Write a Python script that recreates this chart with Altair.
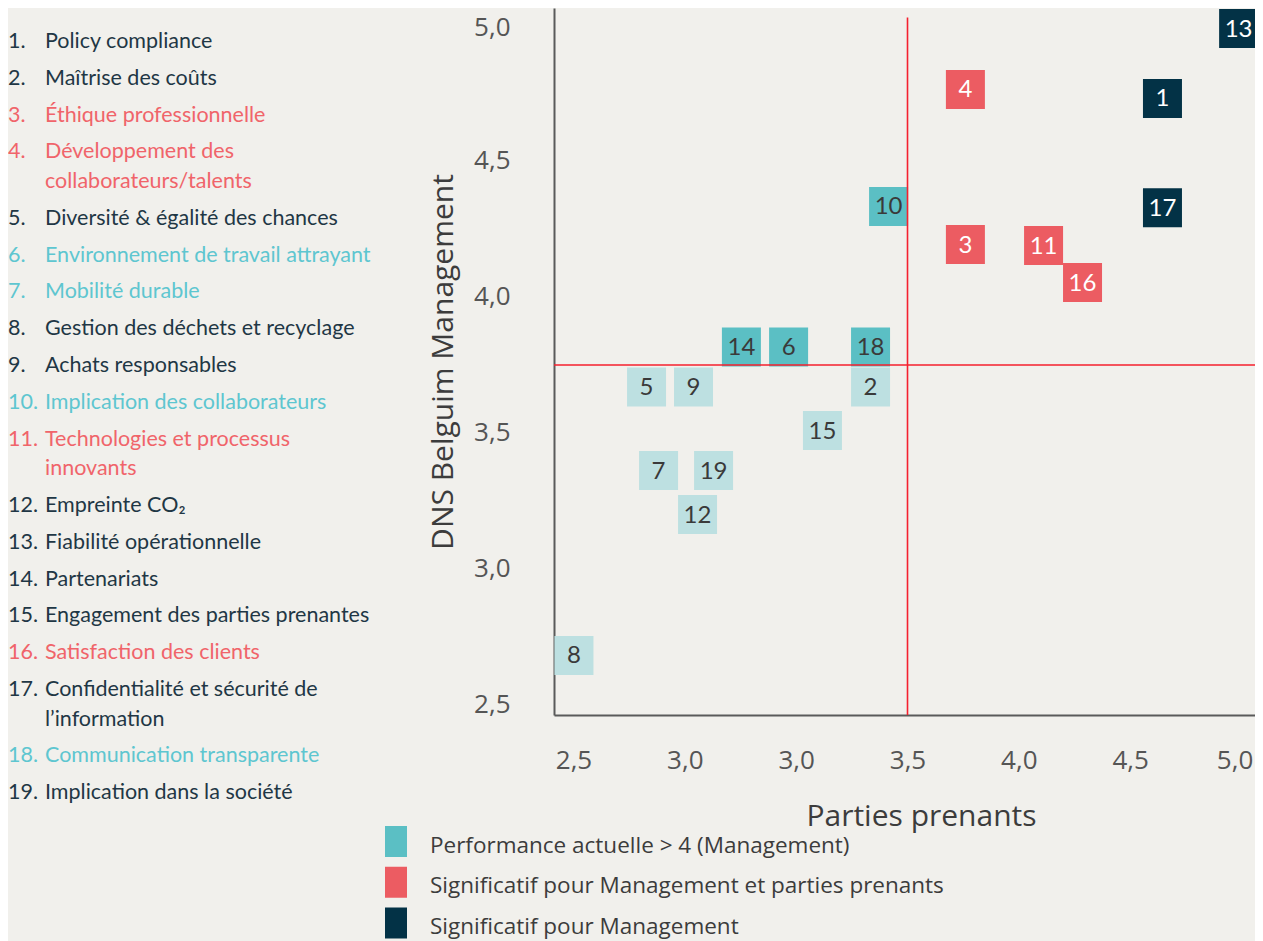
import altair as alt
import pandas as pd

# ---------------- data ----------------
ids = list(range(1, 20))
names = [
    "Policy compliance",
    "Maîtrise des coûts",
    "Éthique professionnelle",
    "Développement des\ncollaborateurs/talents",
    "Diversité & égalité des chances",
    "Environnement de travail attrayant",
    "Mobilité durable",
    "Gestion des déchets et recyclage",
    "Achats responsables",
    "Implication des collaborateurs",
    "Technologies et processus\ninnovants",
    "Empreinte CO₂",
    "Fiabilité opérationnelle",
    "Partenariats",
    "Engagement des parties prenantes",
    "Satisfaction des clients",
    "Confidentialité et sécurité de\nl’information",
    "Communication transparente",
    "Implication dans la société",
]
list_groups = ["dark", "dark", "red", "red", "dark", "teal", "teal", "dark", "dark", "teal",
               "red", "dark", "dark", "dark", "dark", "red", "dark", "teal", "dark"]
# x = Parties prenants (internal axis position), y = DNS Belguim Management
stakeholders = [4.645, 3.334, 3.760, 3.760, 2.328, 2.966, 2.382, 2.002, 2.539, 3.415,
                4.111, 2.557, 4.987, 2.754, 3.118, 4.286, 4.645, 3.334, 2.629]
management = [4.730, 3.669, 4.193, 4.763, 3.669, 3.816, 3.362, 2.682, 3.669, 4.333,
              4.189, 3.200, 4.987, 3.816, 3.509, 4.053, 4.328, 3.816, 3.362]
groups = ["navy", "light", "red", "red", "light", "teal", "light", "light", "light", "teal",
          "red", "light", "navy", "teal", "light", "red", "navy", "teal", "light"]

x_tick_values = [2.0, 2.5, 3.0, 3.5, 4.0, 4.5, 5.0]
x_tick_labels = ["2,5", "3,0", "3,0", "3,5", "4,0", "4,5", "5,0"]
y_tick_values = [2.5, 3.0, 3.5, 4.0, 4.5, 5.0]
y_tick_labels = ["2,5", "3,0", "3,5", "4,0", "4,5", "5,0"]

threshold_x = 3.5
threshold_y = 3.75

legend_groups = ["teal", "red", "navy"]
legend_labels = [
    "Performance actuelle > 4 (Management)",
    "Significatif pour Management et parties prenants",
    "Significatif pour Management",
]

# ---------------- styles ----------------
BG = "#f1f0ec"
TEAL = "#5bbfc4"
RED = "#ec5c62"
NAVY = "#033246"
LIGHT = "#bde0e1"
LIST_DARK = "#1f3745"
LIST_RED = "#f0646a"
LIST_TEAL = "#5ec6d0"
AXIS_GRAY = "#555555"
RULE_RED = "#f5202e"

PLOT_W = 701
PLOT_H = 707
X_DOMAIN = [1.9124, 1.9124 + PLOT_W / 222.67]
Y_DOMAIN = [2.4632, 5.0625]

grp_domain = ["teal", "red", "navy", "light"]
grp_range = [TEAL, RED, NAVY, LIGHT]

df = pd.DataFrame({
    "id": ids,
    "label": [str(i) for i in ids],
    "x": stakeholders,
    "y": management,
    "group": groups,
})

# list layout: slot index with wrapped lines counted
WRAP = 29.6 / 36.8
slots = []
extra = 0
for i, n in enumerate(names):
    slots.append(i + extra * WRAP)
    extra += n.count("\n")
list_df = pd.DataFrame({
    "num": [f"{i}." for i in ids],
    "name": names,
    "lg": list_groups,
    "slot": slots,
})

leg_df = pd.DataFrame({
    "idx": list(range(len(legend_groups))),
    "group": legend_groups,
    "label": legend_labels,
})

x_label_expr = ("[" + ",".join(f"'{s}'" for s in x_tick_labels) + "][indexof(["
                + ",".join(str(v) for v in x_tick_values) + "], datum.value)]")
y_label_expr = ("[" + ",".join(f"'{s}'" for s in y_tick_labels) + "][indexof(["
                + ",".join(str(v) for v in y_tick_values) + "], datum.value)]")

xs = alt.Scale(domain=X_DOMAIN, nice=False, zero=False)
ys = alt.Scale(domain=Y_DOMAIN, nice=False, zero=False)

x_axis = alt.Axis(
    values=x_tick_values, labelExpr=x_label_expr, title="Parties prenants",
    grid=False, ticks=False, tickSize=0, domainColor="#5a5a5a", domainWidth=2,
    labelFont="Open Sans", labelFontSize=26, labelColor=AXIS_GRAY, labelPadding=32,
    labelOffset={"condition": {"test": f"datum.value == {x_tick_values[-1]}", "value": -7}, "value": 0},
    labelBound=False,
    titleFont="Open Sans", titleFontSize=30, titleFontWeight="normal", titleColor="#3c3c3c",
    titlePadding=28, titleX=367, titleAlign="center",
)
y_axis = alt.Axis(
    values=y_tick_values, labelExpr=y_label_expr, title="DNS Belguim Management",
    grid=False, ticks=False, tickSize=0, domainColor="#5a5a5a", domainWidth=2,
    labelFont="Open Sans", labelFontSize=26, labelColor=AXIS_GRAY, labelPadding=44,
    labelOffset={"condition": {"test": f"datum.value == {y_tick_values[-1]}", "value": 3}, "value": 0},
    labelBound=False,
    titleFont="Open Sans", titleFontSize=30, titleFontWeight="normal", titleColor="#3c3c3c",
    titlePadding=15,
)

base = alt.Chart(df)

squares = base.mark_square(size=39 * 39, opacity=1, strokeWidth=0).encode(
    x=alt.X("x:Q", scale=xs, axis=x_axis),
    y=alt.Y("y:Q", scale=ys, axis=y_axis),
    color=alt.Color("group:N", scale=alt.Scale(domain=grp_domain, range=grp_range), legend=None),
)

nums = base.mark_text(font="Lato", fontSize=24, align="center", baseline="middle", dy=1).encode(
    x=alt.X("x:Q", scale=xs, axis=None),
    y=alt.Y("y:Q", scale=ys, axis=None),
    text="label:N",
    color=alt.condition(
        alt.FieldOneOfPredicate(field="group", oneOf=["red", "navy"]),
        alt.value("white"), alt.value("#3a3a3a"),
    ),
)

vrule = alt.Chart(pd.DataFrame({"x": [threshold_x], "y": [5.028], "y2": [Y_DOMAIN[0]]})).mark_rule(
    color=RULE_RED, strokeWidth=1.6
).encode(
    x=alt.X("x:Q", scale=xs, axis=None),
    y=alt.Y("y:Q", scale=ys, axis=None),
    y2="y2:Q",
)
hrule = alt.Chart(pd.DataFrame({"y": [threshold_y], "x": [X_DOMAIN[0]], "x2": [5.068]})).mark_rule(
    color=RULE_RED, strokeWidth=1.6
).encode(
    x=alt.X("x:Q", scale=xs, axis=None),
    x2="x2:Q",
    y=alt.Y("y:Q", scale=ys, axis=None),
)

list_y = alt.Y("slot:Q", scale=alt.Scale(domain=[0, 18], range=[40, 40 + 18 * 36.8], nice=False, zero=False), axis=None)
list_color = alt.Color("lg:N", scale=alt.Scale(domain=["dark", "red", "teal"],
                                                range=[LIST_DARK, LIST_RED, LIST_TEAL]), legend=None)
list_nums = alt.Chart(list_df).mark_text(font="Lato", fontSize=21.5, align="left", baseline="alphabetic").encode(
    x=alt.value(-546), y=list_y, text="num:N", color=list_color,
)
list_names = alt.Chart(list_df).mark_text(font="Lato", fontSize=21.5, align="left", baseline="alphabetic",
                                          lineBreak="\n", lineHeight=29.6).encode(
    x=alt.value(-509), y=list_y, text="name:N", color=list_color,
)

leg_y = alt.Y("idx:Q", scale=alt.Scale(domain=[0, 2], range=[833.5, 915], nice=False, zero=False), axis=None)
leg_rect = alt.Chart(leg_df).mark_rect(height=31).encode(
    x=alt.value(-169), x2=alt.value(-147), y=leg_y,
    color=alt.Color("group:N", scale=alt.Scale(domain=grp_domain, range=grp_range), legend=None),
)
leg_text = alt.Chart(leg_df).mark_text(font="Open Sans", fontSize=22.5, align="left", baseline="alphabetic",
                                       dy=11, color="#3c3c3c").encode(
    x=alt.value(-124), y=leg_y, text="label:N",
)

chart = alt.layer(
    squares, vrule, hrule, nums, list_nums, list_names, leg_rect, leg_text
).resolve_scale(
    x="independent", y="independent", color="independent"
).properties(
    width=PLOT_W, height=PLOT_H,
    autosize=alt.AutoSizeParams(type="none"),
    padding={"left": 546, "top": 0, "right": 0, "bottom": 226},
    background=BG,
).configure_view(strokeWidth=0)

chart.save("out.html", embed_options={"renderer": "svg", "actions": False})
